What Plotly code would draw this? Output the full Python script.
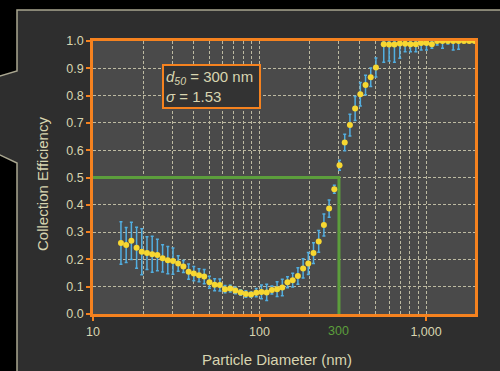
import math
import plotly.graph_objects as go

# ---- data ----
diam_smps = [14.72, 15.82, 17.00, 18.27, 19.63, 21.09, 22.67, 24.36, 26.18, 28.13,
             30.23, 32.48, 34.91, 37.51, 40.31, 43.32, 46.55, 50.02, 53.75, 57.76,
             62.07, 66.70, 71.68, 77.03, 82.77, 88.95, 95.58, 102.7, 110.4, 118.6,
             127.5, 137.0, 147.2, 158.2, 170.0, 182.7, 196.3, 210.9, 226.7, 243.6,
             261.8, 281.3, 302.3, 324.8, 349.1, 375.1, 403.1, 433.2, 465.5, 500.2]
eff_smps = [0.260, 0.253, 0.268, 0.243, 0.228, 0.223, 0.219, 0.216, 0.204, 0.197,
            0.194, 0.185, 0.174, 0.155, 0.148, 0.142, 0.137, 0.116, 0.107, 0.106,
            0.091, 0.093, 0.086, 0.079, 0.073, 0.071, 0.078, 0.081, 0.079, 0.088,
            0.091, 0.097, 0.116, 0.124, 0.139, 0.167, 0.185, 0.223, 0.266, 0.326,
            0.386, 0.457, 0.545, 0.628, 0.692, 0.753, 0.805, 0.839, 0.867, 0.903]
err_smps = [0.078, 0.064, 0.068, 0.075, 0.084, 0.060, 0.066, 0.058, 0.050, 0.050,
            0.048, 0.028, 0.022, 0.028, 0.026, 0.024, 0.026, 0.022, 0.022, 0.022,
            0.013, 0.012, 0.012, 0.010, 0.012, 0.010, 0.015, 0.025, 0.030, 0.015,
            0.027, 0.030, 0.020, 0.025, 0.030, 0.035, 0.040, 0.038, 0.040, 0.040,
            0.032, 0.015, 0.018, 0.030, 0.040, 0.044, 0.043, 0.036, 0.034, 0.035]

diam_aps = [557.2, 600.0, 646.0, 695.5, 748.9, 806.3, 868.2, 934.8, 1006, 1084,
            1167, 1256, 1353, 1456, 1568, 1689, 1818, 1958]
eff_aps = [0.988, 0.987, 0.987, 0.991, 0.990, 0.988, 0.988, 0.993, 0.993, 0.988,
           1.0, 1.0, 1.0, 1.0, 1.0, 1.0, 1.0, 1.0]
err_aps = [0.066, 0.060, 0.065, 0.054, 0.029, 0.027, 0.027, 0.026, 0.026, 0.015,
           0.015, 0.027, 0.011, 0.033, 0.030, 0.005, 0.0, 0.0]

x_tickvals = [10, 100, 1000]
x_ticktext = ["10", "100", "1,000"]
x_minor = [20, 30, 40, 50, 60, 70, 80, 90, 200, 300, 400, 500, 600, 700, 800, 900]
d50 = 300
eff50 = 0.5
sigma = 1.53

# ---- styling ----
FONT = "Liberation Sans, Arial, sans-serif"
ORANGE = "#f5821f"
BEIGE = "#d8d5b0"
GRID = "#bdbaa2"
GREEN = "#5c9e3c"
YELLOW = "#f7d731"
BLUE = "#52aee0"
PANEL = "#2e2e2e"
PLOTBG = "#4a4a4a"

diam = diam_smps + diam_aps
eff = eff_smps + eff_aps
err = err_smps + err_aps
err_up = [min(e, 1.0 - y) for e, y in zip(err, eff)]

fig = go.Figure()

fig.add_trace(go.Scatter(
    x=[x_tickvals[0], d50, d50], y=[eff50, eff50, 0],
    mode="lines", line=dict(color=GREEN, width=3),
    hoverinfo="skip", showlegend=False))

fig.add_trace(go.Scatter(
    x=diam, y=eff, mode="markers",
    marker=dict(color=YELLOW, size=6, line=dict(width=0)),
    error_y=dict(type="data", array=err_up, arrayminus=err, symmetric=False,
                 color=BLUE, thickness=1.5, width=1.5),
    cliponaxis=False, showlegend=False))

# paper geometry helpers (plot area: l=93, t=41, width 382, height 273)
L, T, W, H = 93, 41, 382, 273
def px(xp):
    return (xp - L) / W
def py(yp):
    return (T + H - yp) / H

panel_pts = [(17, 10), (17, 71), (-5, 77.5), (-5, 152.6), (17, 163), (17, 390),
             (520, 390), (520, 10)]
path = "M " + " L ".join(f"{px(a):.5f},{py(b):.5f}" for a, b in panel_pts) + " Z"

fig.update_layout(
    width=500, height=371,
    margin=dict(l=L, r=500 - L - W, t=T, b=371 - T - H),
    paper_bgcolor="#000000", plot_bgcolor=PLOTBG,
    font=dict(family=FONT, color=BEIGE, size=12),
    shapes=[
        dict(type="path", xref="paper", yref="paper", path=path,
             fillcolor=PANEL, line=dict(color="#a9a690", width=1.5), layer="below"),
        dict(type="rect", xref="paper", yref="paper", x0=0, x1=1, y0=0, y1=1,
             fillcolor=PLOTBG, line=dict(width=0), layer="below"),
    ],
    xaxis=dict(
        type="log", range=[1, 3.294],
        tickmode="array", tickvals=x_tickvals, ticktext=x_ticktext,
        ticks="outside", ticklen=4, tickwidth=1.5, tickcolor=ORANGE,
        tickfont=dict(size=12.5, color=BEIGE),
        showgrid=True, gridcolor=GRID, gridwidth=1, griddash="3px,2px",
        minor=dict(tickmode="array", tickvals=x_minor, ticks="", showgrid=True,
                   gridcolor=GRID, gridwidth=1, griddash="3px,2px"),
        showline=True, linecolor=ORANGE, linewidth=2.5, mirror=True,
        zeroline=False,
    ),
    yaxis=dict(
        range=[0, 1], dtick=0.1, tick0=0, tickformat=".1f",
        ticks="outside", ticklen=4, tickwidth=1.5, tickcolor=ORANGE,
        tickfont=dict(size=12.5, color=BEIGE),
        showgrid=True, gridcolor=GRID, gridwidth=1, griddash="3px,2px",
        showline=True, linecolor=ORANGE, linewidth=2.5, mirror=True,
        zeroline=False,
    ),
    annotations=[
        dict(xref="paper", yref="paper", x=px(277), y=py(359),
             text="Particle Diameter (nm)", showarrow=False,
             font=dict(size=15, color=BEIGE), xanchor="center", yanchor="middle"),
        dict(xref="paper", yref="paper", x=px(42), y=py(184),
             text="Collection Efficiency", showarrow=False, textangle=-90,
             font=dict(size=15, color=BEIGE), xanchor="center", yanchor="middle"),
        dict(xref="x", yref="paper", x=math.log10(d50), y=py(331),
             text=str(d50), showarrow=False,
             font=dict(size=12.5, color=GREEN), xanchor="center", yanchor="middle"),
        dict(xref="paper", yref="paper", x=px(162), y=py(64),
             text=f"<i>d</i><sub><i>{int(eff50*100)}</i></sub> = {d50} nm&nbsp;<br><i>σ</i> = {sigma}",
             showarrow=False, align="left", xanchor="left", yanchor="top",
             font=dict(size=15, color=BEIGE),
             bgcolor="#333333", bordercolor=ORANGE, borderwidth=2, borderpad=2),
    ],
)

fig.write_html(
    "out.html",
    config={"displayModeBar": False},
    post_script="document.body.style.margin='0';document.body.style.background='#000';"
                "document.documentElement.style.overflow='hidden';",
)
